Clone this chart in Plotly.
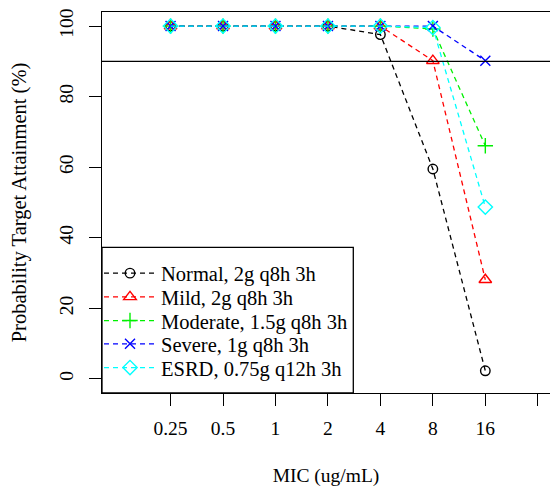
import plotly.graph_objects as go

mic_labels = ["0.25", "0.5", "1", "2", "4", "8", "16"]
x_pos = [1, 2, 3, 4, 5, 6, 7]

normal = [100, 100, 100, 100, 97.6, 59.5, 2.3]
mild = [100, 100, 100, 100, 100, 90.2, 28.1]
moderate = [100, 100, 100, 100, 100, 99.2, 66.1]
severe = [100, 100, 100, 100, 100, 100, 90.2]
esrd = [100, 100, 100, 100, 100, 99.6, 48.7]

series = [
    ("Normal, 2g q8h 3h", normal, "black", "circle-open", 9.5),
    ("Mild, 2g q8h 3h", mild, "#FF0000", "triangle-up-open", 11),
    ("Moderate, 1.5g q8h 3h", moderate, "#00F000", "cross-thin-open", 11),
    ("Severe, 1g q8h 3h", severe, "#0000FF", "x-thin-open", 10),
    ("ESRD, 0.75g q12h 3h", esrd, "#00FFFF", "diamond-open", 11),
]

FONT = "Liberation Serif"
FS = 19.5
PLOT_W = 448.0
PLOT_H = 381.0
row_px = [273.3, 297.0, 320.7, 344.0, 367.7]  # legend row centres (px from top)
plot_bottom = 393.0

fig = go.Figure()
legend_layout = {}
for i, (name, vals, col, sym, sz) in enumerate(series):
    lname = "legend" if i == 0 else f"legend{i + 1}"
    fig.add_trace(go.Scatter(
        x=x_pos, y=vals, name=name, mode="lines+markers",
        line=dict(color=col, width=1.3, dash="5px,4px"),
        marker=dict(symbol=sym, size=sz, color=col, line=dict(color=col, width=1.4)),
        legend=lname,
    ))
    legend_layout[lname] = dict(
        x=-3 / PLOT_W, y=(plot_bottom - row_px[i]) / PLOT_H,
        xanchor="left", yanchor="middle",
        borderwidth=0, bgcolor="rgba(0,0,0,0)",
        font=dict(family=FONT, size=20.5, color="black"),
        itemwidth=52,
    )

fig.add_shape(type="line", xref="paper", yref="y", x0=0, x1=1, y0=90, y1=90,
              line=dict(color="black", width=1.3))
# legend frame
fig.add_shape(type="rect", xref="paper", yref="paper",
              x0=0, x1=(353.3 - 102) / PLOT_W, y0=0, y1=(plot_bottom - 247.3) / PLOT_H,
              line=dict(color="black", width=1.3), fillcolor="rgba(0,0,0,0)")

fig.update_layout(
    width=550, height=487,
    margin=dict(l=102, r=0, t=12, b=94),
    plot_bgcolor="white", paper_bgcolor="white",
    font=dict(family=FONT, size=FS, color="black"),
    showlegend=True,
    xaxis=dict(range=[-0.307, 8.233], tickvals=[1, 2, 3, 4, 5, 6, 7, 8],
               ticktext=mic_labels + [""], ticks="outside", ticklen=12,
               tickwidth=1.3, tickcolor="black", showline=True, mirror=True,
               linecolor="black", linewidth=1.3, showgrid=False, zeroline=False,
               title=dict(text="MIC (ug/mL)", standoff=32, font=dict(size=FS)),
               ticklabelstandoff=5),
    yaxis=dict(range=[-4, 104], tickvals=[0, 20, 40, 60, 80, 100],
               ticks="outside", ticklen=12, tickwidth=1.3, tickcolor="black",
               showline=True, linecolor="black", linewidth=1.3,
               showgrid=False, zeroline=False, tickangle=-90,
               title=dict(text="Probability Target Attainment (%)", standoff=23,
                          font=dict(size=20.5)),
               ticklabelstandoff=8),
    **legend_layout,
)

fig.write_html("out.html")
